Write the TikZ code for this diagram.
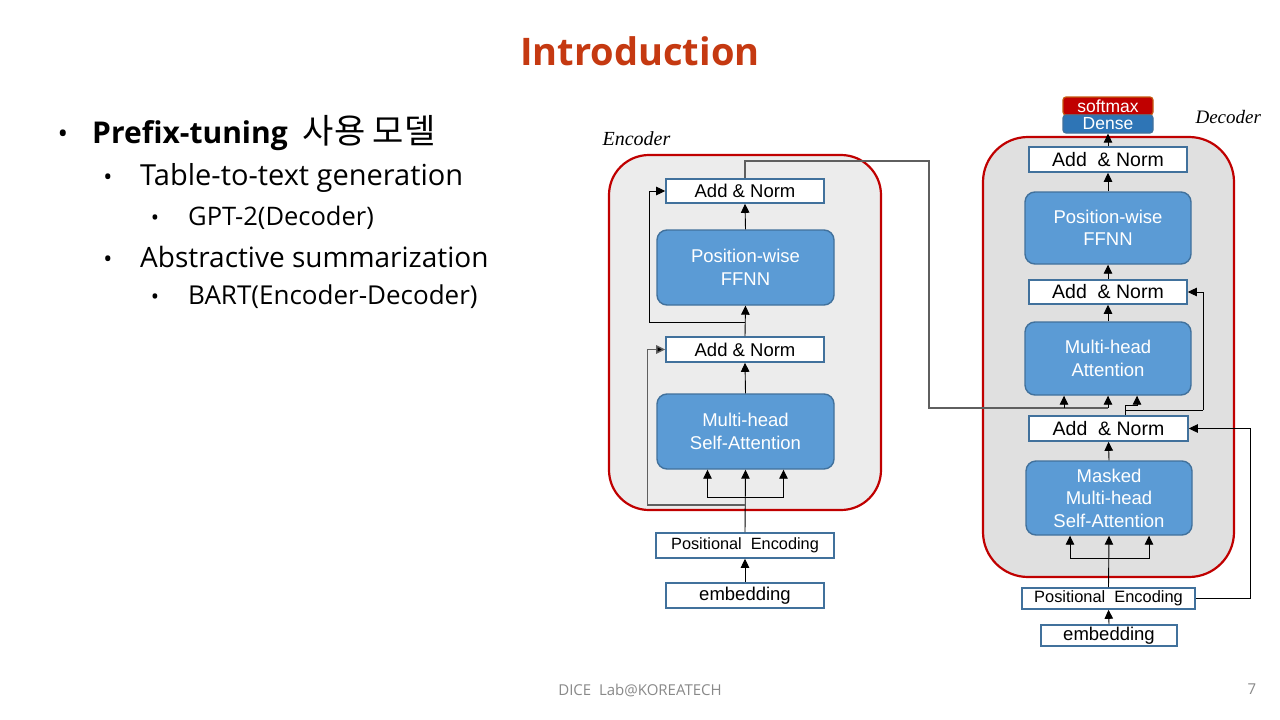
\documentclass[tikz,border=0pt]{standalone}
\usepackage{fontspec}
\setmainfont{Liberation Sans}
\newfontfamily\uifont{Open Sans}
\newfontfamily\cjk{Noto Sans CJK KR}
\newfontfamily\mathital{Liberation Serif}
\usetikzlibrary{arrows.meta,calc}

\definecolor{titlered}{RGB}{197,57,17}
\definecolor{boxblue}{RGB}{91,155,213}
\definecolor{edgeblue}{RGB}{65,113,156}
\definecolor{denseblue}{RGB}{46,117,182}
\definecolor{darkred}{RGB}{192,0,0}
\definecolor{rustedge}{RGB}{197,90,17}
\definecolor{panelgray}{RGB}{236,236,236}
\definecolor{wiregray}{RGB}{95,95,95}
\definecolor{footgray}{RGB}{137,137,137}

\tikzset{
  panel/.style={draw=darkred, line width=2.2pt, fill=panelgray},
  normbox/.style={draw=edgeblue, line width=1.6pt, fill=white, inner sep=0pt,
    font=\fontsize{18.5}{20}\selectfont},
  layerbox/.style={draw=edgeblue, line width=1.4pt, fill=boxblue, rounded corners=10pt,
    inner sep=0pt, text=white, align=center,
    font=\fontsize{18.5}{22.5}\selectfont},
  headbox/.style={line width=1.2pt, rounded corners=3pt, inner sep=0pt, text=white,
    minimum width=90pt, minimum height=18pt, font=\fontsize{17.5}{18}\selectfont},
  wire/.style={draw=black, line width=0.9pt},
  arr/.style={wire, -{Triangle[length=9pt,width=8.5pt]}},
  gwire/.style={draw=wiregray, line width=1.3pt},
  garr/.style={gwire, -{Triangle[length=9pt,width=8.5pt,fill=black]}},
  bullettext/.style={anchor=base west, inner sep=0pt},
}

\begin{document}
\begin{tikzpicture}[x=1pt,y=-1pt]
\useasboundingbox[fill=white] (0,0) rectangle (1280,720);

% ---------- title ----------
\node[anchor=base, text=titlered, font=\uifont\bfseries\fontsize{38}{40}\selectfont]
  (title) at (640,65) {Introduction};

% ---------- bullet list ----------
\node[anchor=base, font=\uifont\fontsize{28}{30}\selectfont] (b1) at (63,143) {•};
\node[bullettext, font=\uifont\fontsize{30}{32}\selectfont] (t1) at (92,143)
  {\textbf{Prefix-tuning}\hspace*{15pt}{\cjk\fontsize{34}{35}\selectfont 사용 모델}};
\node[anchor=base, font=\uifont\fontsize{24}{26}\selectfont] (b2) at (108,185) {•};
\node[bullettext, font=\uifont\fontsize{29}{31}\selectfont] (t2) at (140,185)
  {Table-to-text generation};
\node[anchor=base, font=\uifont\fontsize{22}{24}\selectfont] (b3) at (155,225) {•};
\node[bullettext, font=\uifont\fontsize{25.5}{27}\selectfont] (t3) at (188,225)
  {GPT-2(Decoder)};
\node[anchor=base, font=\uifont\fontsize{24}{26}\selectfont] (b4) at (108,267) {•};
\node[bullettext, font=\uifont\fontsize{28}{30}\selectfont] (t4) at (140,267)
  {Abstractive summarization};
\node[anchor=base, font=\uifont\fontsize{22}{24}\selectfont] (b5) at (155,304) {•};
\node[bullettext, font=\uifont\fontsize{26}{28}\selectfont] (t5) at (188,304)
  {BART(Encoder-Decoder)};

% ---------- footer ----------
\node[anchor=base, text=footgray, font=\uifont\fontsize{15}{16}\selectfont]
  (foot) at (640,695) {DICE\ \ Lab@KOREATECH};
\node[anchor=base, text=footgray, font=\uifont\fontsize{15}{16}\selectfont]
  (page) at (1252,694) {7};

% ---------- encoder ----------
\node[anchor=base west, font=\mathital\itshape\fontsize{20}{20}\selectfont] (enclabel) at (599,145) {Encoder};
\draw[panel, rounded corners=40pt] (609,155) rectangle (881,510);

\node[normbox, minimum width=158pt, minimum height=24pt] (eAN2) at (745,191) {Add \& Norm};
\node[layerbox, minimum width=177pt, minimum height=75pt] (eFF) at (745.5,267.5) {Position-wise\\FFNN};
\node[normbox, minimum width=158pt, minimum height=25pt] (eAN1) at (745,349.5) {Add \& Norm};
\node[layerbox, minimum width=177pt, minimum height=75pt] (eMH) at (745.5,431.5) {Multi-head\\Self-Attention};
\node[normbox, minimum width=178pt, minimum height=25pt, font=\fontsize{16.3}{18}\selectfont] (ePE) at (745,545.5) {Positional\ \ Encoding};
\node[normbox, minimum width=158pt, minimum height=25pt] (eEm) at (745,595.5) {embedding};

\coordinate (eSplit) at (745,497);
\coordinate (eRes1) at (745,505);
\coordinate (eRes2) at (745,322);

\draw[arr] (eEm.north) -- (ePE.south);
\draw[arr] (ePE.north) -- (eMH.south);
\draw[arr] (eSplit) -| ($(eMH.south)+(-38,0)$);
\draw[arr] (eSplit) -| ($(eMH.south)+(38,0)$);
\draw[garr] (eRes1) -| ($(eAN1.west)+(-18,0)$) -- (eAN1.west);
\draw[arr] (eMH.north) -- (eAN1.south);
\draw[arr] (eAN1.north) -- (eFF.south);
\draw[arr] (eRes2) -| ($(eAN2.west)+(-16,0)$) -- (eAN2.west);
\draw[arr] (eFF.north) -- (eAN2.south);

% ---------- decoder ----------
\node[anchor=base west, font=\mathital\itshape\fontsize{19}{20}\selectfont] (declabel) at (1192,123) {Decoder};
\draw[panel, fill=panelgray!95!black, rounded corners=45pt] (983,137) rectangle (1234,577);

\node[headbox, fill=darkred, draw=rustedge] (soft) at (1108,106) {softmax};
\node[headbox, fill=denseblue, draw=edgeblue] (dense) at (1108,124) {Dense};

\node[normbox, minimum width=158pt, minimum height=25pt, font=\fontsize{19.5}{20}\selectfont] (dAN3) at (1108,159.5) {Add\ \ \& Norm};
\node[layerbox, minimum width=166pt, minimum height=72pt] (dFF) at (1108,228) {Position-wise\\FFNN};
\node[normbox, minimum width=158pt, minimum height=24pt, font=\fontsize{19.5}{20}\selectfont] (dAN2) at (1108,292) {Add\ \ \& Norm};
\node[layerbox, minimum width=166pt, minimum height=73pt] (dMH) at (1108,358.5) {Multi-head\\Attention};
\node[normbox, minimum width=159pt, minimum height=25pt, font=\fontsize{19.5}{20}\selectfont] (dAN1) at (1108.5,428.5) {Add\ \ \& Norm};
\node[layerbox, minimum width=166pt, minimum height=74pt] (dMM) at (1109,498) {Masked\\Multi-head\\Self-Attention};
\node[normbox, minimum width=173pt, minimum height=21pt, font=\fontsize{16.4}{18}\selectfont] (dPE) at (1108.5,598.5) {Positional\ \ Encoding};
\node[normbox, minimum width=136pt, minimum height=21pt] (dEm) at (1109,635.5) {embedding};

\coordinate (dSplit) at (1108,558);
\coordinate (dSide) at (1250,598.5);
\coordinate (dUp) at (1125,410);
\coordinate (dStep) at (1125,405);
\coordinate (dRight) at (1203,410);

\draw[arr] (dEm.north) -- (dPE.south);
\draw[arr] (dPE.north) -- (dMM.south);
\draw[arr] (dSplit) -| ($(dMM.south)+(-39,0)$);
\draw[arr] (dSplit) -| ($(dMM.south)+(40,0)$);
\draw[arr] (dPE.east) -- (dSide) |- (dAN1.east);
\draw[arr] (dMM.north) -- (dAN1.south);
\draw[wire] ($(dAN1.north)+(16.5,0)$) -- (dUp) -- (dRight);
\draw[arr] (dRight) |- (dAN2.east);
\draw[arr] (dUp) -- (dStep) -| ($(dMH.south)+(29,0)$);
\draw[arr] (dMH.north) -- (dAN2.south);
\draw[arr] (dAN2.north) -- (dFF.south);
\draw[arr] (dFF.north) -- (dAN3.south);
\draw[arr] (dAN3.north) -- (dense.south);

% ---------- encoder output into decoder attention ----------
\coordinate (xTop) at (745,161);
\coordinate (xCorner) at (929,161);
\coordinate (xIn) at (929,408);
\coordinate (xMid) at (1108,408);
\draw[gwire] (eAN2.north) -- (xTop) -- (xCorner) -- (xIn) -- (xMid);
\draw[arr] ($(xMid)+(-44,0)$) -- ($(dMH.south)+(-44,0)$);
\draw[arr] (xMid) -- (dMH.south);
\end{tikzpicture}
\end{document}
